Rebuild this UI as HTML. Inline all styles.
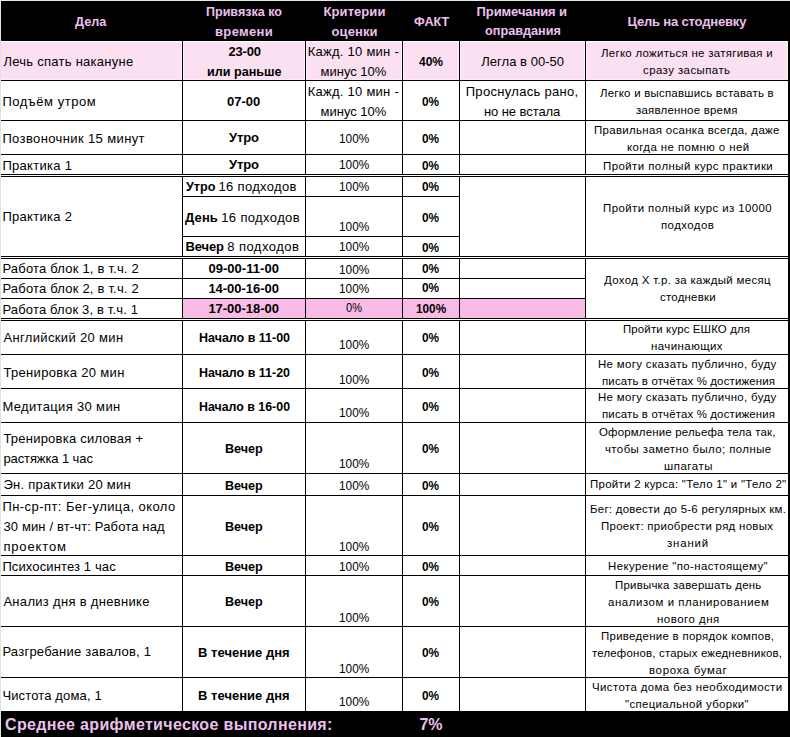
<!DOCTYPE html>
<html><head><meta charset="utf-8"><style>
html,body{margin:0;padding:0;background:#fff;}
#w{position:relative;width:790px;height:737px;overflow:hidden;}
.r{position:absolute;}
.s{-webkit-text-stroke:0px #000;}
.t{position:absolute;white-space:pre;line-height:20px;font-family:"Liberation Sans",sans-serif;color:#000;transform-origin:0 0;}
</style></head><body><div id="w">
<div class="r" style="left:0px;top:0px;width:790px;height:737px;background:#ffffff"></div>
<div class="r" style="left:0px;top:0px;width:790px;height:1px;background:#e6e9ee"></div>
<div class="r" style="left:0px;top:0px;width:1px;height:737px;background:#dfe3e8"></div>
<div class="r" style="left:1px;top:1px;width:789px;height:40px;background:#000"></div>
<div class="r" style="left:1px;top:42px;width:787px;height:38px;background:#fae0f1"></div>
<div class="r" style="left:183px;top:299px;width:402px;height:19px;background:#f8bbe5"></div>
<div class="r" style="left:1px;top:711px;width:789px;height:26px;background:#000"></div>
<div class="r" style="left:181px;top:42px;width:1px;height:38px;background:#fdf2f9"></div>
<div class="r" style="left:183px;top:42px;width:1px;height:38px;background:#fdf2f9"></div>
<div class="r" style="left:304px;top:42px;width:1px;height:38px;background:#fdf2f9"></div>
<div class="r" style="left:306px;top:42px;width:1px;height:38px;background:#fdf2f9"></div>
<div class="r" style="left:401px;top:42px;width:1px;height:38px;background:#fdf2f9"></div>
<div class="r" style="left:403px;top:42px;width:1px;height:38px;background:#fdf2f9"></div>
<div class="r" style="left:458px;top:42px;width:1px;height:38px;background:#fdf2f9"></div>
<div class="r" style="left:460px;top:42px;width:1px;height:38px;background:#fdf2f9"></div>
<div class="r" style="left:584px;top:42px;width:1px;height:38px;background:#fdf2f9"></div>
<div class="r" style="left:586px;top:42px;width:1px;height:38px;background:#fdf2f9"></div>
<div class="r" style="left:787px;top:42px;width:1px;height:38px;background:#fdf2f9"></div>
<div class="r" style="left:1px;top:79px;width:787px;height:1px;background:#fcebf6"></div>
<div class="r" style="left:1px;top:41px;width:787px;height:1px;background:#ffffff"></div>
<div class="r" style="left:182px;top:41px;width:1px;height:670px;background:#000"></div>
<div class="r" style="left:305px;top:41px;width:1px;height:670px;background:#000"></div>
<div class="r" style="left:402px;top:41px;width:1px;height:670px;background:#000"></div>
<div class="r" style="left:459px;top:41px;width:1px;height:670px;background:#000"></div>
<div class="r" style="left:585px;top:41px;width:1px;height:670px;background:#000"></div>
<div class="r" style="left:788px;top:1px;width:2px;height:736px;background:#000"></div>
<div class="r" style="left:1px;top:80px;width:787px;height:1px;background:#000"></div>
<div class="r" style="left:1px;top:120px;width:787px;height:1px;background:#000"></div>
<div class="r" style="left:1px;top:154px;width:787px;height:1px;background:#000"></div>
<div class="r" style="left:1px;top:174px;width:787px;height:1px;background:#000"></div>
<div class="r" style="left:1px;top:176px;width:787px;height:1px;background:#000"></div>
<div class="r" style="left:1px;top:256px;width:787px;height:1px;background:#000"></div>
<div class="r" style="left:1px;top:258px;width:787px;height:1px;background:#000"></div>
<div class="r" style="left:1px;top:318px;width:787px;height:1px;background:#000"></div>
<div class="r" style="left:1px;top:320px;width:787px;height:1px;background:#000"></div>
<div class="r" style="left:1px;top:354px;width:787px;height:1px;background:#000"></div>
<div class="r" style="left:1px;top:388px;width:787px;height:1px;background:#000"></div>
<div class="r" style="left:1px;top:422px;width:787px;height:1px;background:#000"></div>
<div class="r" style="left:1px;top:473px;width:787px;height:1px;background:#000"></div>
<div class="r" style="left:1px;top:495px;width:787px;height:1px;background:#000"></div>
<div class="r" style="left:1px;top:555px;width:787px;height:1px;background:#000"></div>
<div class="r" style="left:1px;top:575px;width:787px;height:1px;background:#000"></div>
<div class="r" style="left:1px;top:626px;width:787px;height:1px;background:#000"></div>
<div class="r" style="left:1px;top:677px;width:787px;height:1px;background:#000"></div>
<div class="r" style="left:1px;top:175px;width:787px;height:1px;background:#ffffff"></div>
<div class="r" style="left:1px;top:257px;width:787px;height:1px;background:#ffffff"></div>
<div class="r" style="left:1px;top:319px;width:787px;height:1px;background:#ffffff"></div>
<div class="r" style="left:182px;top:196px;width:278px;height:1px;background:#000"></div>
<div class="r" style="left:182px;top:236px;width:278px;height:1px;background:#000"></div>
<div class="r" style="left:1px;top:278px;width:585px;height:1px;background:#000"></div>
<div class="r" style="left:1px;top:298px;width:585px;height:1px;background:#000"></div>
<div class="t" style="left:75.40px;top:12px;font-size:13.0px;font-weight:bold;color:#ecc0ee;letter-spacing:0.000px;transform:scaleX(0.9694);">Дела</div>
<div class="t" style="left:206.00px;top:2px;font-size:13.0px;font-weight:bold;color:#ecc0ee;letter-spacing:0.000px;transform:scaleX(0.9641);">Привязка ко</div>
<div class="t" style="left:215.00px;top:22px;font-size:13.0px;font-weight:bold;color:#ecc0ee;letter-spacing:0.352px;">времени</div>
<div class="t" style="left:323.60px;top:2px;font-size:13.0px;font-weight:bold;color:#ecc0ee;letter-spacing:0.058px;">Критерии</div>
<div class="t" style="left:331.50px;top:22px;font-size:13.0px;font-weight:bold;color:#ecc0ee;letter-spacing:0.116px;">оценки</div>
<div class="t" style="left:413.90px;top:12px;font-size:13.0px;font-weight:bold;color:#ecc0ee;letter-spacing:0.000px;transform:scaleX(0.9693);">ФАКТ</div>
<div class="t" style="left:476.60px;top:2px;font-size:13.0px;font-weight:bold;color:#ecc0ee;letter-spacing:-0.102px;">Примечания и</div>
<div class="t" style="left:485.00px;top:21px;font-size:13.0px;font-weight:bold;color:#ecc0ee;letter-spacing:0.000px;transform:scaleX(0.9757);">оправдания</div>
<div class="t" style="left:627.40px;top:12px;font-size:13.0px;font-weight:bold;color:#ecc0ee;letter-spacing:-0.167px;">Цель на стодневку</div>
<div class="t" style="left:3.40px;top:52px;font-size:13.0px;letter-spacing:0.268px;">Лечь спать накануне</div>
<div class="t" style="left:2.40px;top:92px;font-size:13.0px;letter-spacing:0.536px;">Подъём утром</div>
<div class="t" style="left:2.40px;top:129px;font-size:13.0px;letter-spacing:0.381px;">Позвоночник 15 минут</div>
<div class="t" style="left:2.40px;top:156px;font-size:13.0px;letter-spacing:0.304px;">Практика 1</div>
<div class="t" style="left:2.40px;top:207px;font-size:13.0px;letter-spacing:0.304px;">Практика 2</div>
<div class="t" style="left:2.40px;top:259px;font-size:13.0px;letter-spacing:0.199px;">Работа блок 1, в т.ч. 2</div>
<div class="t" style="left:2.40px;top:279px;font-size:13.0px;letter-spacing:0.199px;">Работа блок 2, в т.ч. 2</div>
<div class="t" style="left:2.40px;top:300px;font-size:13.0px;letter-spacing:0.167px;">Работа блок 3, в т.ч. 1</div>
<div class="t" style="left:3.40px;top:328px;font-size:13.0px;letter-spacing:0.349px;">Английский 20 мин</div>
<div class="t" style="left:3.40px;top:363px;font-size:13.0px;letter-spacing:0.327px;">Тренировка 20 мин</div>
<div class="t" style="left:2.40px;top:397px;font-size:13.0px;letter-spacing:0.344px;">Медитация 30 мин</div>
<div class="t" style="left:3.40px;top:429px;font-size:13.0px;letter-spacing:0.229px;">Тренировка силовая +</div>
<div class="t" style="left:3.40px;top:449px;font-size:13.0px;letter-spacing:-0.101px;">растяжка 1 час</div>
<div class="t" style="left:3.40px;top:475px;font-size:13.0px;letter-spacing:0.282px;">Эн. практики 20 мин</div>
<div class="t" style="left:2.40px;top:497px;font-size:13.0px;letter-spacing:0.438px;">Пн-ср-пт: Бег-улица, около</div>
<div class="t" style="left:3.40px;top:517px;font-size:13.0px;letter-spacing:0.142px;">30 мин / вт-чт: Работа над</div>
<div class="t" style="left:3.40px;top:537px;font-size:13.0px;letter-spacing:0.857px;">проектом</div>
<div class="t" style="left:2.40px;top:557px;font-size:13.0px;letter-spacing:0.125px;">Психосинтез 1 час</div>
<div class="t" style="left:3.40px;top:592px;font-size:13.0px;letter-spacing:0.310px;">Анализ дня в дневнике</div>
<div class="t" style="left:2.40px;top:642px;font-size:13.0px;letter-spacing:0.244px;">Разгребание завалов, 1</div>
<div class="t" style="left:2.40px;top:686px;font-size:13.0px;letter-spacing:0.140px;">Чистота дома, 1</div>
<div class="t" style="left:228.50px;top:42px;font-size:13.0px;font-weight:bold;letter-spacing:-0.180px;">23-00</div>
<div class="t" style="left:206.70px;top:62px;font-size:13.0px;font-weight:bold;letter-spacing:0.000px;transform:scaleX(0.9700);">или раньше</div>
<div class="t" style="left:227.00px;top:92px;font-size:13.0px;font-weight:bold;letter-spacing:-0.030px;">07-00</div>
<div class="t" style="left:229.10px;top:128px;font-size:13.0px;font-weight:bold;letter-spacing:-0.198px;">Утро</div>
<div class="t" style="left:229.10px;top:155px;font-size:13.0px;font-weight:bold;letter-spacing:-0.198px;">Утро</div>
<div class="t" style="left:185.50px;top:177px;font-size:13.0px;font-weight:bold;letter-spacing:0.000px;transform:scaleX(0.9706);">Утро</div>
<div class="t" style="left:218.40px;top:177px;font-size:13.0px;letter-spacing:0.345px;">16 подходов</div>
<div class="t" style="left:185.10px;top:208px;font-size:13.0px;font-weight:bold;letter-spacing:0.066px;">День</div>
<div class="t" style="left:221.20px;top:208px;font-size:13.0px;letter-spacing:0.375px;">16 подходов</div>
<div class="t" style="left:185.50px;top:237px;font-size:13.0px;font-weight:bold;letter-spacing:-0.118px;">Вечер</div>
<div class="t" style="left:227.20px;top:237px;font-size:13.0px;letter-spacing:0.464px;">8 подходов</div>
<div class="t" style="left:208.40px;top:259px;font-size:13.0px;font-weight:bold;letter-spacing:0.042px;">09-00-11-00</div>
<div class="t" style="left:208.40px;top:279px;font-size:13.0px;font-weight:bold;letter-spacing:-0.030px;">14-00-16-00</div>
<div class="t" style="left:208.40px;top:299px;font-size:13.0px;font-weight:bold;letter-spacing:-0.030px;">17-00-18-00</div>
<div class="t" style="left:198.60px;top:328px;font-size:13.0px;font-weight:bold;letter-spacing:0.000px;transform:scaleX(0.9597);">Начало в 11-00</div>
<div class="t" style="left:198.60px;top:363px;font-size:13.0px;font-weight:bold;letter-spacing:0.000px;transform:scaleX(0.9597);">Начало в 11-20</div>
<div class="t" style="left:198.60px;top:397px;font-size:13.0px;font-weight:bold;letter-spacing:0.000px;transform:scaleX(0.9524);">Начало в 16-00</div>
<div class="t" style="left:224.70px;top:439px;font-size:13.0px;font-weight:bold;letter-spacing:0.000px;transform:scaleX(0.9675);">Вечер</div>
<div class="t" style="left:224.70px;top:476px;font-size:13.0px;font-weight:bold;letter-spacing:0.000px;transform:scaleX(0.9675);">Вечер</div>
<div class="t" style="left:224.70px;top:517px;font-size:13.0px;font-weight:bold;letter-spacing:0.000px;transform:scaleX(0.9675);">Вечер</div>
<div class="t" style="left:224.70px;top:557px;font-size:13.0px;font-weight:bold;letter-spacing:0.000px;transform:scaleX(0.9675);">Вечер</div>
<div class="t" style="left:224.70px;top:592px;font-size:13.0px;font-weight:bold;letter-spacing:0.000px;transform:scaleX(0.9675);">Вечер</div>
<div class="t" style="left:198.10px;top:643px;font-size:13.0px;font-weight:bold;letter-spacing:0.005px;">В течение дня</div>
<div class="t" style="left:198.10px;top:686px;font-size:13.0px;font-weight:bold;letter-spacing:0.005px;">В течение дня</div>
<div class="t" style="left:307.80px;top:42px;font-size:13.0px;letter-spacing:0.248px;">Кажд. 10 мин -</div>
<div class="t" style="left:320.60px;top:62px;font-size:13.0px;letter-spacing:-0.026px;">минус 10%</div>
<div class="t" style="left:307.80px;top:82px;font-size:13.0px;letter-spacing:0.248px;">Кажд. 10 мин -</div>
<div class="t" style="left:320.60px;top:102px;font-size:13.0px;letter-spacing:-0.026px;">минус 10%</div>
<div class="t" style="left:338.60px;top:129px;font-size:13.0px;letter-spacing:0.000px;transform:scaleX(0.9083);">100%</div>
<div class="t" style="left:338.60px;top:155px;font-size:13.0px;letter-spacing:0.000px;transform:scaleX(0.9083);">100%</div>
<div class="t" style="left:338.60px;top:177px;font-size:13.0px;letter-spacing:0.000px;transform:scaleX(0.9083);">100%</div>
<div class="t" style="left:338.60px;top:217px;font-size:13.0px;letter-spacing:0.000px;transform:scaleX(0.9083);">100%</div>
<div class="t" style="left:338.60px;top:237px;font-size:13.0px;letter-spacing:0.000px;transform:scaleX(0.9083);">100%</div>
<div class="t" style="left:338.60px;top:260px;font-size:13.0px;letter-spacing:0.000px;transform:scaleX(0.9083);">100%</div>
<div class="t" style="left:338.60px;top:279px;font-size:13.0px;letter-spacing:0.000px;transform:scaleX(0.9083);">100%</div>
<div class="t" style="left:338.60px;top:335px;font-size:13.0px;letter-spacing:0.000px;transform:scaleX(0.9083);">100%</div>
<div class="t" style="left:338.60px;top:370px;font-size:13.0px;letter-spacing:0.000px;transform:scaleX(0.9083);">100%</div>
<div class="t" style="left:338.60px;top:403px;font-size:13.0px;letter-spacing:0.000px;transform:scaleX(0.9083);">100%</div>
<div class="t" style="left:338.60px;top:454px;font-size:13.0px;letter-spacing:0.000px;transform:scaleX(0.9083);">100%</div>
<div class="t" style="left:338.60px;top:476px;font-size:13.0px;letter-spacing:0.000px;transform:scaleX(0.9083);">100%</div>
<div class="t" style="left:338.60px;top:537px;font-size:13.0px;letter-spacing:0.000px;transform:scaleX(0.9083);">100%</div>
<div class="t" style="left:338.60px;top:557px;font-size:13.0px;letter-spacing:0.000px;transform:scaleX(0.9083);">100%</div>
<div class="t" style="left:338.60px;top:608px;font-size:13.0px;letter-spacing:0.000px;transform:scaleX(0.9083);">100%</div>
<div class="t" style="left:338.60px;top:659px;font-size:13.0px;letter-spacing:0.000px;transform:scaleX(0.9083);">100%</div>
<div class="t" style="left:338.60px;top:692px;font-size:13.0px;letter-spacing:0.000px;transform:scaleX(0.9083);">100%</div>
<div class="t" style="left:345.60px;top:298px;font-size:13.0px;letter-spacing:0.000px;transform:scaleX(0.8476);">0%</div>
<div class="t" style="left:419.10px;top:52px;font-size:13.0px;font-weight:bold;letter-spacing:0.000px;transform:scaleX(0.9221);">40%</div>
<div class="t" style="left:422.10px;top:92px;font-size:13.0px;font-weight:bold;letter-spacing:0.000px;transform:scaleX(0.9100);">0%</div>
<div class="t" style="left:422.10px;top:129px;font-size:13.0px;font-weight:bold;letter-spacing:0.000px;transform:scaleX(0.9100);">0%</div>
<div class="t" style="left:422.10px;top:156px;font-size:13.0px;font-weight:bold;letter-spacing:0.000px;transform:scaleX(0.9100);">0%</div>
<div class="t" style="left:422.10px;top:177px;font-size:13.0px;font-weight:bold;letter-spacing:0.000px;transform:scaleX(0.9100);">0%</div>
<div class="t" style="left:422.10px;top:208px;font-size:13.0px;font-weight:bold;letter-spacing:0.000px;transform:scaleX(0.9100);">0%</div>
<div class="t" style="left:422.10px;top:238px;font-size:13.0px;font-weight:bold;letter-spacing:0.000px;transform:scaleX(0.9100);">0%</div>
<div class="t" style="left:422.10px;top:259px;font-size:13.0px;font-weight:bold;letter-spacing:0.000px;transform:scaleX(0.9100);">0%</div>
<div class="t" style="left:422.10px;top:278px;font-size:13.0px;font-weight:bold;letter-spacing:0.000px;transform:scaleX(0.9100);">0%</div>
<div class="t" style="left:422.10px;top:328px;font-size:13.0px;font-weight:bold;letter-spacing:0.000px;transform:scaleX(0.9100);">0%</div>
<div class="t" style="left:422.10px;top:363px;font-size:13.0px;font-weight:bold;letter-spacing:0.000px;transform:scaleX(0.9100);">0%</div>
<div class="t" style="left:422.10px;top:397px;font-size:13.0px;font-weight:bold;letter-spacing:0.000px;transform:scaleX(0.9100);">0%</div>
<div class="t" style="left:422.10px;top:439px;font-size:13.0px;font-weight:bold;letter-spacing:0.000px;transform:scaleX(0.9100);">0%</div>
<div class="t" style="left:422.10px;top:476px;font-size:13.0px;font-weight:bold;letter-spacing:0.000px;transform:scaleX(0.9100);">0%</div>
<div class="t" style="left:422.10px;top:517px;font-size:13.0px;font-weight:bold;letter-spacing:0.000px;transform:scaleX(0.9100);">0%</div>
<div class="t" style="left:422.10px;top:557px;font-size:13.0px;font-weight:bold;letter-spacing:0.000px;transform:scaleX(0.9100);">0%</div>
<div class="t" style="left:422.10px;top:592px;font-size:13.0px;font-weight:bold;letter-spacing:0.000px;transform:scaleX(0.9100);">0%</div>
<div class="t" style="left:422.10px;top:643px;font-size:13.0px;font-weight:bold;letter-spacing:0.000px;transform:scaleX(0.9100);">0%</div>
<div class="t" style="left:422.10px;top:686px;font-size:13.0px;font-weight:bold;letter-spacing:0.000px;transform:scaleX(0.9100);">0%</div>
<div class="t" style="left:415.80px;top:299px;font-size:13.0px;font-weight:bold;letter-spacing:0.000px;transform:scaleX(0.9053);">100%</div>
<div class="t" style="left:481.20px;top:52px;font-size:13.0px;letter-spacing:0.035px;">Легла в 00-50</div>
<div class="t" style="left:465.70px;top:82px;font-size:13.0px;letter-spacing:0.309px;">Проснулась рано,</div>
<div class="t" style="left:483.90px;top:102px;font-size:13.0px;letter-spacing:-0.066px;">но не встала</div>
<div class="t s" style="left:601.00px;top:43px;font-size:11.0px;letter-spacing:0.281px;transform:scaleX(1.0400);">Легко ложиться не затягивая и</div>
<div class="t s" style="left:643.30px;top:60px;font-size:11.0px;letter-spacing:0.417px;transform:scaleX(1.0400);">сразу засыпать</div>
<div class="t s" style="left:600.20px;top:83px;font-size:11.0px;letter-spacing:0.227px;transform:scaleX(1.0400);">Легко и выспавшись вставать в</div>
<div class="t s" style="left:636.30px;top:100px;font-size:11.0px;letter-spacing:0.218px;transform:scaleX(1.0400);">заявленное время</div>
<div class="t s" style="left:594.30px;top:120px;font-size:11.0px;letter-spacing:0.319px;transform:scaleX(1.0400);">Правильная осанка всегда, даже</div>
<div class="t s" style="left:626.80px;top:137px;font-size:11.0px;letter-spacing:0.390px;transform:scaleX(1.0400);">когда не помню о ней</div>
<div class="t s" style="left:602.80px;top:156px;font-size:11.0px;letter-spacing:0.423px;transform:scaleX(1.0400);">Пройти полный курс практики</div>
<div class="t s" style="left:602.80px;top:198px;font-size:11.0px;letter-spacing:0.402px;transform:scaleX(1.0400);">Пройти полный курс из 10000</div>
<div class="t s" style="left:660.90px;top:215px;font-size:11.0px;letter-spacing:0.404px;transform:scaleX(1.0400);">подходов</div>
<div class="t s" style="left:604.10px;top:270px;font-size:11.0px;letter-spacing:0.321px;transform:scaleX(1.0400);">Доход Х т.р. за каждый месяц</div>
<div class="t s" style="left:659.60px;top:287px;font-size:11.0px;letter-spacing:0.226px;transform:scaleX(1.0400);">стодневки</div>
<div class="t s" style="left:623.40px;top:319px;font-size:11.0px;letter-spacing:0.134px;transform:scaleX(1.0400);">Пройти курс ЕШКО для</div>
<div class="t s" style="left:651.30px;top:336px;font-size:11.0px;letter-spacing:0.429px;transform:scaleX(1.0400);">начинающих</div>
<div class="t s" style="left:598.40px;top:354px;font-size:11.0px;letter-spacing:0.330px;transform:scaleX(1.0400);">Не могу сказать публично, буду</div>
<div class="t s" style="left:601.50px;top:371px;font-size:11.0px;letter-spacing:0.144px;transform:scaleX(1.0400);">писать в отчётах % достижения</div>
<div class="t s" style="left:598.40px;top:387px;font-size:11.0px;letter-spacing:0.330px;transform:scaleX(1.0400);">Не могу сказать публично, буду</div>
<div class="t s" style="left:601.50px;top:404px;font-size:11.0px;letter-spacing:0.144px;transform:scaleX(1.0400);">писать в отчётах % достижения</div>
<div class="t s" style="left:599.40px;top:422px;font-size:11.0px;letter-spacing:0.178px;transform:scaleX(1.0400);">Оформление рельефа тела так,</div>
<div class="t s" style="left:605.40px;top:439px;font-size:11.0px;letter-spacing:0.385px;transform:scaleX(1.0400);">чтобы заметно было; полные</div>
<div class="t s" style="left:663.50px;top:456px;font-size:11.0px;letter-spacing:0.509px;transform:scaleX(1.0400);">шпагаты</div>
<div class="t s" style="left:589.90px;top:474px;font-size:11.0px;letter-spacing:0.278px;transform:scaleX(1.0400);">Пройти 2 курса: "Тело 1" и "Тело 2"</div>
<div class="t s" style="left:589.50px;top:499px;font-size:11.0px;letter-spacing:0.250px;transform:scaleX(1.0400);">Бег: довести до 5-6 регулярных км.</div>
<div class="t s" style="left:601.20px;top:516px;font-size:11.0px;letter-spacing:0.276px;transform:scaleX(1.0400);">Проект: приобрести ряд новых</div>
<div class="t s" style="left:666.60px;top:533px;font-size:11.0px;letter-spacing:0.794px;transform:scaleX(1.0400);">знаний</div>
<div class="t s" style="left:608.00px;top:556px;font-size:11.0px;letter-spacing:0.375px;transform:scaleX(1.0400);">Некурение "по-настоящему"</div>
<div class="t s" style="left:614.70px;top:575px;font-size:11.0px;letter-spacing:0.220px;transform:scaleX(1.0400);">Привычка завершать день</div>
<div class="t s" style="left:608.00px;top:592px;font-size:11.0px;letter-spacing:0.534px;transform:scaleX(1.0400);">анализом и планированием</div>
<div class="t s" style="left:657.20px;top:609px;font-size:11.0px;letter-spacing:0.482px;transform:scaleX(1.0400);">нового дня</div>
<div class="t s" style="left:600.70px;top:626px;font-size:11.0px;letter-spacing:0.285px;transform:scaleX(1.0400);">Приведение в порядок компов,</div>
<div class="t s" style="left:591.90px;top:643px;font-size:11.0px;letter-spacing:0.172px;transform:scaleX(1.0400);">телефонов, старых ежедневников,</div>
<div class="t s" style="left:649.00px;top:660px;font-size:11.0px;letter-spacing:0.645px;transform:scaleX(1.0400);">вороха бумаг</div>
<div class="t s" style="left:591.90px;top:677px;font-size:11.0px;letter-spacing:0.381px;transform:scaleX(1.0400);">Чистота дома без необходимости</div>
<div class="t s" style="left:625.00px;top:694px;font-size:11.0px;letter-spacing:0.329px;transform:scaleX(1.0400);">"специальной уборки"</div>
<div class="t" style="left:5.00px;top:715px;font-size:16.0px;font-weight:bold;color:#ecc0ee;letter-spacing:0.343px;">Среднее арифметическое выполнения:</div>
<div class="t" style="left:419.40px;top:715px;font-size:16.0px;font-weight:bold;color:#ecc0ee;letter-spacing:0.002px;">7%</div>
</div></body></html>
